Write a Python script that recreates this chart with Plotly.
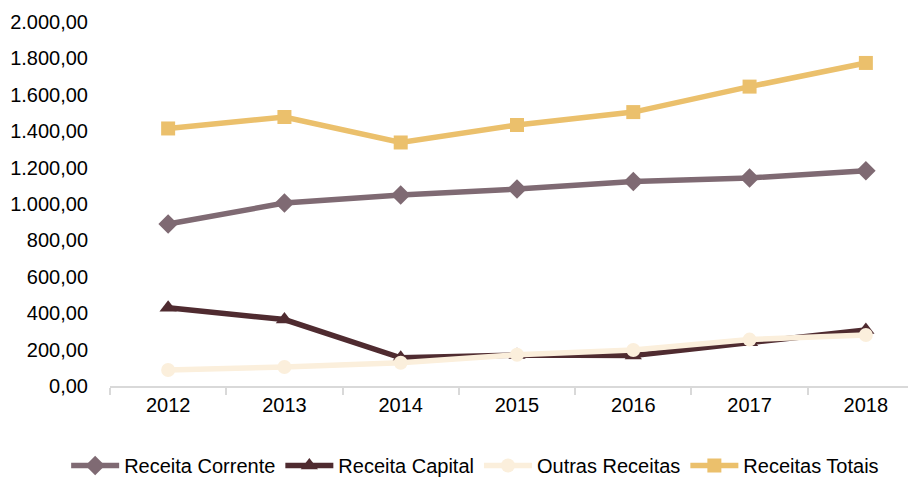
import plotly.graph_objects as go

years = ["2012", "2013", "2014", "2015", "2016", "2017", "2018"]
receita_corrente = [890, 1005, 1050, 1082, 1123, 1143, 1183]
receita_capital = [430, 365, 155, 170, 168, 240, 308]
outras_receitas = [88, 104, 128, 172, 198, 255, 280]
receitas_totais = [1415, 1478, 1338, 1434, 1505, 1645, 1775]

FONT = "Liberation Sans, Arial, sans-serif"
FS = 20

series = [
    ("Receita Corrente", receita_corrente, "#7f6a73", "diamond", 15),
    ("Receita Capital", receita_capital, "#4f2b30", "triangle-up", 15),
    ("Outras Receitas", outras_receitas, "#fbefdc", "circle", 14),
    ("Receitas Totais", receitas_totais, "#ebc06c", "square", 14),
]

fig = go.Figure()
for name, vals, color, sym, size in series:
    fig.add_trace(go.Scatter(
        x=years, y=vals, name=name, mode="lines+markers",
        line=dict(color=color, width=5.5),
        marker=dict(symbol=sym, size=size, color=color),
    ))

fig.update_layout(
    width=916, height=479,
    margin=dict(l=102, r=0, t=14, b=101),
    paper_bgcolor="white", plot_bgcolor="white",
    separators=",.",
    font=dict(family=FONT, size=FS, color="black"),
    showlegend=True,
    legend=dict(orientation="h", xref="container", x=0.51, xanchor="center",
                yref="container", y=0.045, yanchor="middle",
                font=dict(family=FONT, size=FS, color="black"),
                itemwidth=48, tracegroupgap=0),
)
fig.update_xaxes(
    type="category", range=[-0.5, 6.5],
    showline=True, linecolor="#d9d9d9", linewidth=2,
    ticks="outside", ticklen=7, tickcolor="#d9d9d9", tickwidth=2,
    tickson="boundaries", showgrid=False, zeroline=False,
    tickfont=dict(family=FONT, size=FS, color="black"),
)
fig.update_yaxes(
    range=[0, 2000], dtick=200, tickformat=",.2f",
    showline=False, showgrid=False, zeroline=False,
    ticks="", ticklabelstandoff=21,
    tickfont=dict(family=FONT, size=FS, color="black"),
)

fig.write_html("out.html")
